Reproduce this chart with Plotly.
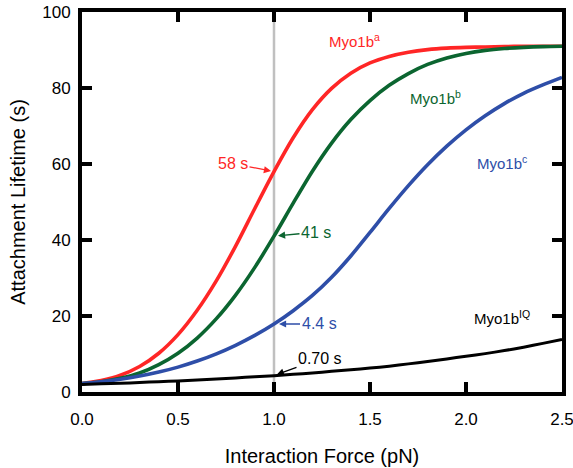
import plotly.graph_objects as go

force = [0.0, 0.1, 0.2, 0.3, 0.4, 0.5, 0.6, 0.7, 0.8, 0.9, 1.0, 1.1, 1.2, 1.3,
         1.4, 1.5, 1.6, 1.7, 1.8, 1.9, 2.0, 2.1, 2.2, 2.3, 2.4, 2.5]

myo1b_a = [2.2, 3.0, 4.4, 6.7, 10.2, 15.1, 21.5, 29.3, 38.4, 48.3, 58.0, 66.9, 74.3,
           79.9, 83.9, 86.6, 88.3, 89.4, 90.1, 90.5, 90.7, 90.8, 90.9, 91.0, 91.0, 91.0]
myo1b_b = [2.2, 2.7, 3.6, 5.0, 7.2, 10.2, 14.2, 19.3, 25.5, 32.8, 41.0, 49.7, 58.1,
           65.5, 71.7, 76.7, 80.7, 83.8, 86.2, 87.9, 89.1, 89.9, 90.4, 90.7, 90.9, 91.0]
myo1b_c = [2.2, 2.7, 3.35, 4.2, 5.25, 6.55, 8.15, 10.05, 12.3, 14.9, 17.9, 21.4, 25.4,
           30.2, 35.8, 42.0, 48.3, 54.3, 59.8, 64.7, 69.0, 72.7, 75.9, 78.6, 80.8, 82.8]
myo1b_iq = [2.0, 2.15, 2.3, 2.5, 2.7, 2.9, 3.15, 3.4, 3.7, 4.0, 4.3, 4.65, 5.0,
            5.45, 5.85, 6.3, 6.8, 7.4, 8.0, 8.7, 9.4, 10.1, 10.9, 11.8, 12.8, 13.8]

ref_force = 1.0
ref_labels = ["58 s", "41 s", "4.4 s", "0.70 s"]

series = [
    ("Myo1b<sup>a</sup>", myo1b_a, "#ff2626", 3.6),
    ("Myo1b<sup>b</sup>", myo1b_b, "#0b6530", 3.6),
    ("Myo1b<sup>c</sup>", myo1b_c, "#2e4ea8", 3.6),
    ("Myo1b<sup>IQ</sup>", myo1b_iq, "#000000", 3.0),
]

FONT = "Liberation Sans"

fig = go.Figure()
for name, vals, col, w in series:
    fig.add_trace(go.Scatter(x=force, y=vals, mode="lines", name=name,
                             line=dict(color=col, width=w, shape="spline", smoothing=0.8),
                             showlegend=False, hoverinfo="skip"))

fig.add_shape(type="line", xref="x", yref="paper", x0=ref_force, x1=ref_force,
              y0=0, y1=1, line=dict(color="#c0c0c0", width=2.5), layer="below")

# curve name labels
name_pos = [(1.42, 92.6), (1.84, 77.6), (2.19, 60.5), (2.19, 19.7)]
for (name, vals, col, w), (lx, ly) in zip(series, name_pos):
    fig.add_annotation(x=lx, y=ly, text=name, showarrow=False,
                       font=dict(family=FONT, size=15, color=col))

# value labels with arrows
idx = force.index(ref_force)
offsets = [(-41, -8, 3), (42, -4, 4), (45, 0, 5), (46, -17, 3)]
for (name, vals, col, w), lab, (ax, ay, st) in zip(series, ref_labels, offsets):
    fig.add_annotation(x=ref_force, y=vals[idx], text=lab, showarrow=True,
                       ax=ax, ay=ay, axref="pixel", ayref="pixel",
                       arrowhead=2, arrowsize=1.1, arrowwidth=1.3, arrowcolor=col,
                       standoff=st, font=dict(family=FONT, size=16, color=col))

axis_common = dict(showline=True, linewidth=4, linecolor="black", mirror="ticks",
                   ticks="inside", ticklen=10, tickwidth=3.5, tickcolor="black",
                   showgrid=False, zeroline=False, automargin=False,
                   ticklabeloverflow="allow",
                   tickfont=dict(family=FONT, size=17, color="black"))

fig.update_xaxes(range=[0, 2.5], tickvals=[0, 0.5, 1.0, 1.5, 2.0, 2.5],
                 ticktext=["0.0", "0.5", "1.0", "1.5", "2.0", "2.5"],
                 ticklabelstandoff=9,
                 title=dict(text="Interaction Force (pN)", standoff=22,
                            font=dict(family=FONT, size=20, color="black")),
                 **axis_common)
fig.update_yaxes(range=[0, 100], tickvals=[0, 20, 40, 60, 80, 100],
                 ticklabelstandoff=4,
                 title=dict(text="Attachment Lifetime (s)", standoff=12,
                            font=dict(family=FONT, size=20, color="black")),
                 **axis_common)

fig.update_layout(width=573, height=468, margin=dict(l=82, r=11, t=12, b=76),
                  plot_bgcolor="white", paper_bgcolor="white", template="none")

# remove the default page margin so the figure sits at the window's corner
fig.write_html("out.html", config={"displayModeBar": False},
               post_script="document.body.style.margin='0';document.body.style.overflow='hidden';")
